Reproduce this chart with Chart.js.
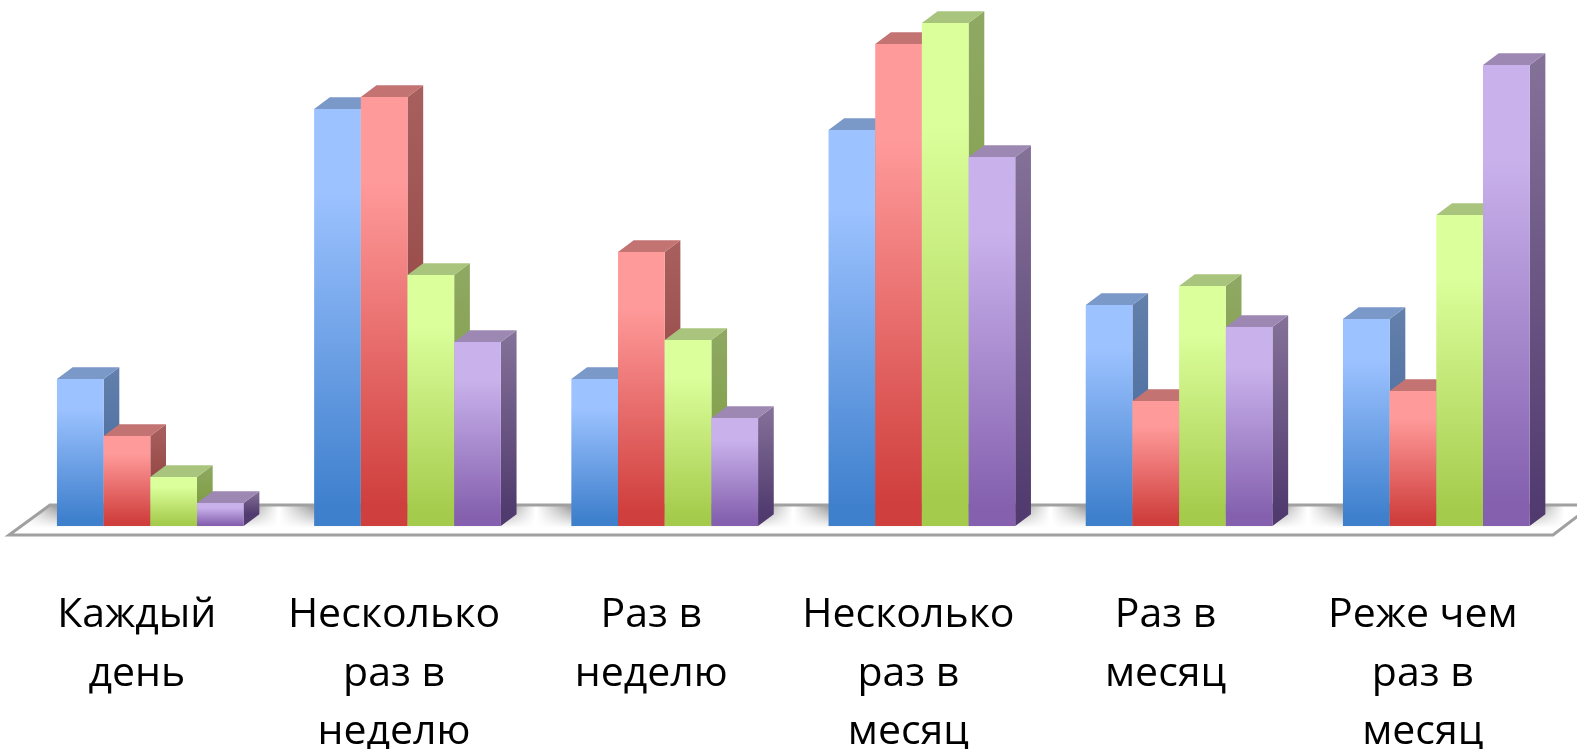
<!DOCTYPE html>
<html>
<head>
<meta charset="utf-8">
<title>Chart</title>
<script src="https://cdn.jsdelivr.net/npm/chart.js@4/dist/chart.umd.min.js"></script>
<style>
  html, body { margin: 0; padding: 0; background: #fff; overflow: hidden; }
  canvas { display: block; }
</style>
</head>
<body>
<canvas id="grafico" width="1577" height="749"></canvas>
<script>
const categorias = [
  ['Каждый', 'день'],
  ['Несколько', 'раз в', 'неделю'],
  ['Раз в', 'неделю'],
  ['Несколько', 'раз в', 'месяц'],
  ['Раз в', 'месяц'],
  ['Реже чем', 'раз в', 'месяц']
];

// values, the axis itself is not shown
const serieAzul = [7.35, 20.85, 7.35, 19.8, 11.05, 10.35];
const serieRoja = [4.5, 21.45, 13.7, 24.1, 6.25, 6.75];
const serieVerde = [2.45, 12.55, 9.3, 25.15, 12.0, 15.55];
const serieMorada = [1.15, 9.2, 5.4, 18.45, 9.95, 23.05];

const colores = [
  { claro: '#9cc2ff', oscuro: '#3f80cd', techo: '#7a98c8', ladoA: '#6480ab', ladoB: '#40669e' },
  { claro: '#ff9a9a', oscuro: '#cf3f3d', techo: '#c27372', ladoA: '#a8605e', ladoB: '#8a3a38' },
  { claro: '#dbff9b', oscuro: '#a5cb4c', techo: '#a8c47d', ladoA: '#8fa963', ladoB: '#7a9a3a' },
  { claro: '#c9b2ec', oscuro: '#8460ae', techo: '#9c88b3', ladoA: '#857299', ladoB: '#503a6e' }
];

const DX = 15.7; // depth of the 3d effect
const DY = 11.7;

function frente(c) {
  return function (context) {
    const chart = context.chart;
    if (!chart.chartArea || context.raw === undefined) return c.claro;
    const y = chart.scales.y;
    const g = chart.ctx.createLinearGradient(0, y.getPixelForValue(context.raw), 0, y.getPixelForValue(0));
    g.addColorStop(0, c.claro);
    g.addColorStop(0.2, c.claro);
    g.addColorStop(0.95, c.oscuro);
    g.addColorStop(1, c.oscuro);
    return g;
  };
}

function trazar(ctx, puntos) {
  ctx.beginPath();
  puntos.forEach((p, i) => (i === 0 ? ctx.moveTo(p[0], p[1]) : ctx.lineTo(p[0], p[1])));
  ctx.closePath();
}

function poligono(ctx, puntos, relleno) {
  trazar(ctx, puntos);
  ctx.fillStyle = relleno;
  ctx.fill();
}

function dibujarPiso(chart) {
  const ctx = chart.ctx;
  const x = chart.scales.x;
  const base = chart.scales.y.getPixelForValue(0);
  const pts = [[50, base - 21], [1592, base - 21], [1553, base + 9], [9, base + 9]];
  const ancho = chart.width;

  const sombra = ctx.createLinearGradient(0, 0, ancho, 0);
  const parar = (px, col) => sombra.addColorStop(Math.min(1, Math.max(0, px / ancho)), col);
  categorias.forEach((_, i) => {
    const cx = x.getPixelForTick(i);
    parar(cx - 128, '#ffffff');
    parar(cx - 95, '#8f8f8f');
    parar(cx + 100, '#8f8f8f');
    parar(cx + 128, '#ffffff');
  });

  ctx.save();
  poligono(ctx, pts, sombra);
  trazar(ctx, pts);
  ctx.clip();
  const velo = ctx.createLinearGradient(0, base - 21, 0, base + 2);
  velo.addColorStop(0, 'rgba(255,255,255,0.1)');
  velo.addColorStop(1, 'rgba(255,255,255,1)');
  ctx.fillStyle = velo;
  ctx.fillRect(0, base - 21, ancho, 31);
  ctx.restore();

  ctx.save();
  trazar(ctx, pts);
  ctx.lineWidth = 3;
  ctx.strokeStyle = '#a0a0a0';
  ctx.stroke();
  ctx.restore();
}

const barras3d = {
  id: 'barras3d',
  // later series stand in front of the earlier ones, so paint left to right
  beforeDatasetsDraw(chart) {
    const ctx = chart.ctx;
    dibujarPiso(chart);
    colores.forEach((c, i) => {
      chart.getDatasetMeta(i).data.forEach((barra) => {
        const der = barra.x + barra.width / 2;
        const izq = barra.x - barra.width / 2;
        const lado = ctx.createLinearGradient(0, barra.y - DY, 0, barra.base - DY);
        lado.addColorStop(0, c.ladoA);
        lado.addColorStop(1, c.ladoB);
        poligono(ctx, [[der, barra.y], [der + DX, barra.y - DY], [der + DX, barra.base - DY], [der, barra.base]], lado);
        poligono(ctx, [[izq, barra.y], [izq + DX, barra.y - DY], [der + DX, barra.y - DY], [der, barra.y]], c.techo);
        barra.draw(ctx);
      });
    });
    return false;
  }
};

const series = [serieAzul, serieRoja, serieVerde, serieMorada];

new Chart(document.getElementById('grafico'), {
  type: 'bar',
  data: {
    labels: categorias,
    datasets: series.map((valores, i) => ({
      data: valores,
      backgroundColor: frente(colores[i]),
      borderWidth: 0,
      categoryPercentage: 0.726,
      barPercentage: 1
    }))
  },
  options: {
    responsive: false,
    animation: false,
    devicePixelRatio: 1,
    layout: { padding: { top: 16, left: 21.7, right: 12.1, bottom: 0 } },
    plugins: { legend: { display: false }, tooltip: { enabled: false } },
    scales: {
      x: {
        grid: { display: false },
        border: { display: false },
        afterFit: (scale) => {
          scale.height = 223;
          scale.paddingLeft = 0;
          scale.paddingRight = 0;
        },
        ticks: {
          color: '#000',
          padding: 52,
          labelOffset: -13.5,
          autoSkip: false,
          maxRotation: 0,
          font: { family: '"Open Sans", "Noto Sans", sans-serif', size: 41, lineHeight: 1.43 }
        }
      },
      y: { display: false, min: 0, max: 25.5 }
    }
  },
  plugins: [barras3d]
});
</script>
</body>
</html>
